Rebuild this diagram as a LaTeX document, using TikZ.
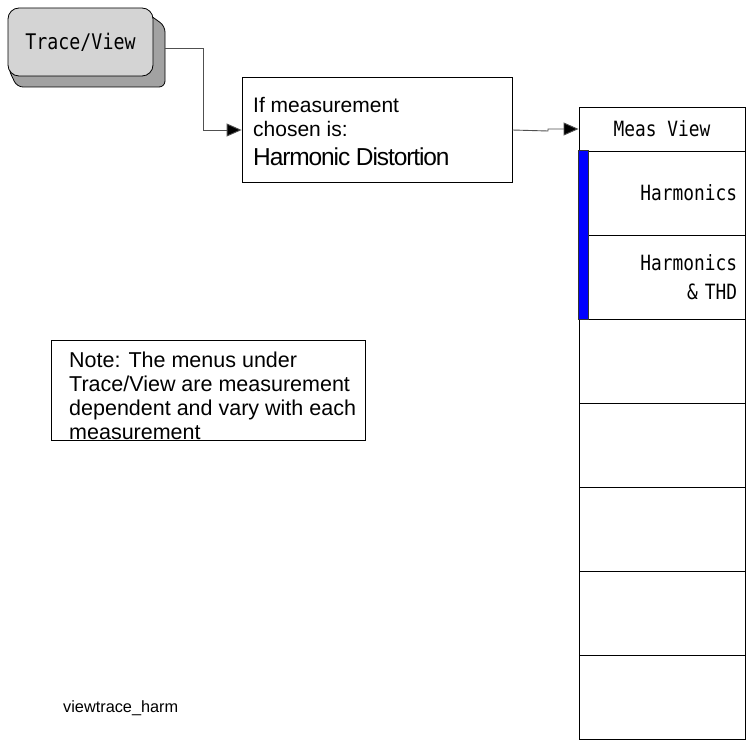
\documentclass[tikz,border=0pt]{standalone}
\usepackage{fontspec}
\setmainfont{Liberation Sans}
\newfontfamily\keyfont[FakeStretch=0.85]{DejaVu Sans Mono}
\usetikzlibrary{arrows.meta}
\definecolor{keygray}{HTML}{D4D4D4}
\definecolor{shadowgray}{HTML}{A2A2A2}
\definecolor{linegray}{HTML}{505050}
\begin{document}
\begin{tikzpicture}[x=1pt,y=-1pt,
  thinbox/.style={draw=black, line width=0.8pt},
  conn/.style={draw=linegray, line width=0.9pt, -{Triangle[length=15pt,width=13pt,fill=black]}},
  keyface/.style={draw=black, line width=0.8pt, fill=keygray, rounded corners=11pt,
    minimum width=145pt, minimum height=68pt, inner sep=0pt,
    font=\keyfont\fontsize{21.5}{22}\selectfont},
  menurow/.style={draw=black, line width=0.9pt, minimum width=166pt, minimum height=84pt,
    inner sep=0pt, font=\keyfont\fontsize{21}{29}\selectfont},
  menuhead/.style={menurow, minimum height=44pt},
  bodytext/.style={inner sep=0pt, anchor=north west, align=left}
]
\useasboundingbox (0,0) rectangle (751,743);

% Trace/View hard key
\draw[fill=shadowgray, line width=0.8pt, rounded corners=6pt]
  (140,8) -- (165,26) -- (165,87) -- (17,87) -- (8,68) -- cycle;
\node[keyface] (key) at (80.5,42) {Trace/View};
\coordinate (keyout) at (165,48);

% condition box
\node[thinbox, minimum width=270pt, minimum height=105pt, inner sep=0pt] (cond) at (377,130) {};
\node[bodytext, font=\fontsize{21}{24}\selectfont] (condtext) at (253,97)
  {If measurement\\chosen is:\\[5pt]%
   \fontsize{24.5}{24}\selectfont\addfontfeature{LetterSpace=-4.5}Harmonic Distortion};

% menu column
\node[menuhead] (m0) at (662,129) {Meas View};
\node[menurow, text width=150pt, align=right] (m1) at (662,193) {Harmonics};
\node[menurow, text width=150pt, align=right] (m2) at (662,277) {Harmonics\\\& THD};
\node[menurow] (m3) at (662,361) {};
\node[menurow] (m4) at (662,445) {};
\node[menurow] (m5) at (662,529) {};
\node[menurow] (m6) at (662,613) {};
\node[menurow] (m7) at (662,697) {};
\draw[fill=blue, draw=black!80, line width=0.6pt] (m1.north west) rectangle ([xshift=10pt]m2.south west);

% connectors
\draw[conn] (keyout) -- (203,48) |- (cond.west);
\draw[conn] (cond.east) -- (548,131) -- (548,129) -- (m0.west);

% note
\node[thinbox, minimum width=314pt, minimum height=100pt, inner sep=0pt] (note) at (208,390) {};
\node[bodytext, font=\fontsize{21.5}{24}\selectfont] (notetext) at (69,352)
  {Note: The menus under\\Trace/View are measurement\\dependent and vary with each\\measurement};

% file label
\node[inner sep=0pt, anchor=west, font=\fontsize{16.3}{18}\selectfont] (fname) at (63,708) {viewtrace\_harm};
\end{tikzpicture}
\end{document}
